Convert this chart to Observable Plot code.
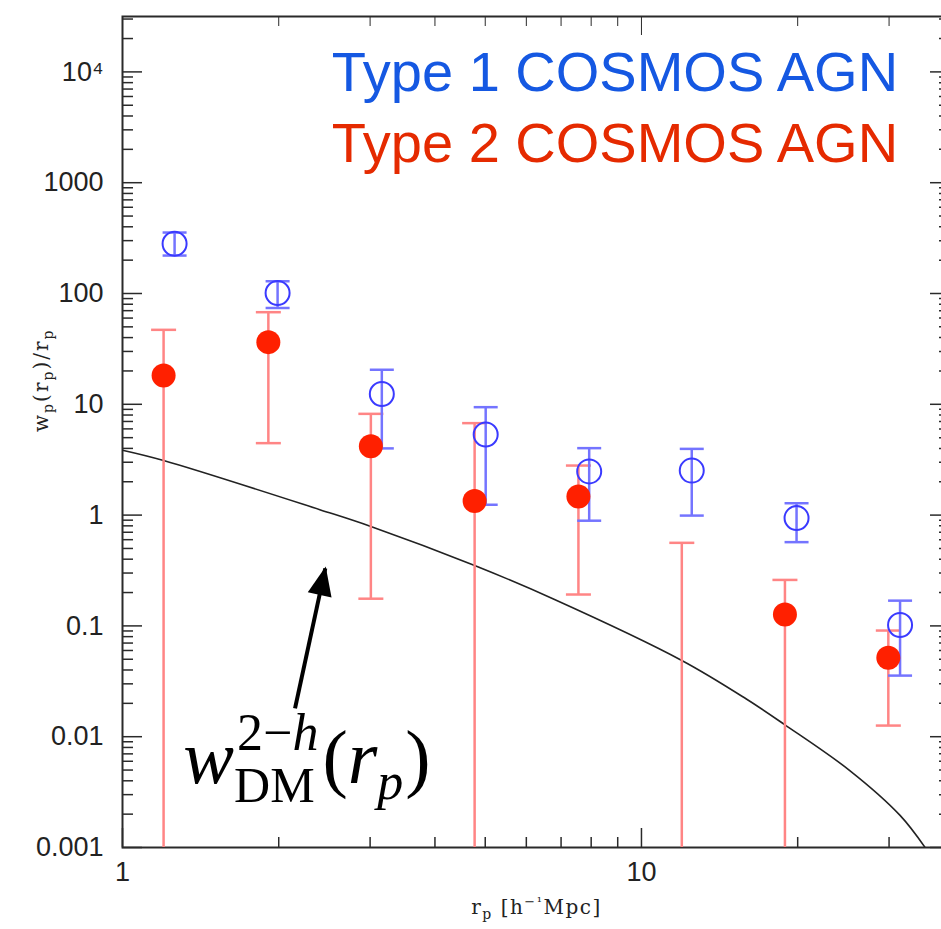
<!DOCTYPE html>
<html><head><meta charset="utf-8">
<script src="https://cdn.jsdelivr.net/npm/d3@7"></script>
<script src="https://cdn.jsdelivr.net/npm/@observablehq/plot@0.6"></script>
<style>
html,body{margin:0;padding:0;background:#fff;overflow:hidden;}
</style></head><body><div id="chart"></div><script>
// ---- Type 1 COSMOS AGN (open blue circles) ----
const type1R  = [1.26, 1.99, 3.16, 5.01, 7.93, 12.5, 19.9, 31.5];
const type1W  = [281, 101, 12.4, 5.34, 2.48, 2.52, 0.94, 0.102];
const type1Lo = [220, 74, 4.0, 1.24, 0.89, 0.99, 0.57, 0.0356];
const type1Hi = [355, 129, 20.5, 9.42, 4.02, 3.96, 1.28, 0.169];
// ---- Type 2 COSMOS AGN (filled red circles); null = off the plot ----
const type2R  = [1.20, 1.91, 3.01, 4.77, 7.56, 11.96, 18.9, 29.9];
const type2W  = [18.2, 36.4, 4.19, 1.34, 1.47, null, 0.127, 0.0515];
const type2Lo = [null, 4.46, 0.176, null, 0.192, null, null, 0.0126];
const type2Hi = [47, 67.8, 8.2, 6.76, 2.80, 0.562, 0.26, 0.0908];
// ---- dark-matter model curve ----
const dmR = [1.0, 1.2, 2.4, 3.01, 4.77, 6.75, 11.96, 15.9, 18.9, 25.2, 31.5, 35.2];
const dmW = [3.85, 3.11, 1.12, 0.79, 0.351, 0.176, 0.0488, 0.022, 0.0128, 0.00495, 0.00195, 0.001];
// ---- axes ----
const xDomain = [1, 39.4];
const yDomain = [1e-3, 10 ** 4.5];
const xMajor = [1, 10];
const xTickLabels = ["1", "10"];
const xMinor = [2, 3, 4, 5, 6, 7, 8, 9, 20, 30];
const yMajor = [1e-3, 1e-2, 0.1, 1, 10, 100, 1000, 1e4];
const yTickLabels = ["0.001", "0.01", "0.1", "1", "10", "100", "1000", "10\u2074"];
const yMinor = d3.range(-3, 5).flatMap(e => d3.range(2, 10).map(m => m * 10 ** e)).filter(v => v < yDomain[1]);
// ---- legend & annotation ----
const legendLabels = ["Type 1 COSMOS AGN", "Type 2 COSMOS AGN"];
const legendX = [2.53, 2.53];
const legendY = [6790, 1553];
const annotX = 1.31, annotY = 0.00379;
const arrowFrom = [2.15, 0.0180], arrowTo = [2.459, 0.330];
const xLabel = "rp [h-1Mpc]";
const yLabel = "wp(rp)/rp";
const annotText = "wDM(rp)";

const t1 = type1R.map((r, i) => ({r, w: type1W[i], lo: type1Lo[i], hi: type1Hi[i]}));
const t2 = type2R.map((r, i) => ({r, w: type2W[i], lo: type2Lo[i], hi: type2Hi[i]}));
const dm = dmR.map((r, i) => ({r, w: dmW[i]}));

const W = 941, H = 929, mL = 122, mR = -9, mT = 16, mB = 82;
const fW = W - mL - mR, fH = H - mT - mB;
const axisCol = "#2a2a2a";
const cap = {draw(ctx, size) { const r = Math.sqrt(size / Math.PI); ctx.moveTo(-r, 0); ctx.lineTo(r, 0); }};
const head = {draw(ctx, size) { const r = Math.sqrt(size / Math.PI); ctx.moveTo(0, -2); ctx.lineTo(-0.45 * r, r); ctx.lineTo(0.45 * r, r); ctx.closePath(); }};

const plot = Plot.plot({
  width: W, height: H, marginLeft: mL, marginRight: mR, marginTop: mT, marginBottom: mB,
  x: {type: "log", domain: xDomain, axis: null},
  y: {type: "log", domain: yDomain, axis: null},
  style: {fontFamily: "Liberation Sans, Arial, sans-serif", background: "#fff", overflow: "visible"},
  marks: [
    // ticks (inward, all four sides)
    Plot.ruleX(xMajor, {x: d => d, insetTop: fH - 19, stroke: axisCol, strokeWidth: 1.5}),
    Plot.ruleX(xMinor, {x: d => d, insetTop: fH - 10, stroke: axisCol, strokeWidth: 1.5}),
    Plot.ruleX(xMajor, {x: d => d, insetBottom: fH - 19, stroke: axisCol, strokeWidth: 1}),
    Plot.ruleX(xMinor, {x: d => d, insetBottom: fH - 10, stroke: axisCol, strokeWidth: 1}),
    Plot.ruleY(yMajor, {y: d => d, insetRight: fW - 20, stroke: axisCol, strokeWidth: 1.5}),
    Plot.ruleY(yMinor, {y: d => d, insetRight: fW - 11, stroke: axisCol, strokeWidth: 1.5}),
    Plot.ruleY(yMajor, {y: d => d, insetLeft: fW - 20, stroke: axisCol, strokeWidth: 1.5}),
    Plot.ruleY(yMinor, {y: d => d, insetLeft: fW - 11, stroke: axisCol, strokeWidth: 1.5}),
    Plot.frame({stroke: axisCol, strokeWidth: 2}),
    // tick labels
    Plot.text(xMajor, {x: d => d, text: (d, i) => xTickLabels[i], frameAnchor: "bottom", dy: 25, lineAnchor: "middle", fontSize: 27, fill: "#222"}),
    Plot.text(yMajor, {y: d => d, text: (d, i) => yTickLabels[i], frameAnchor: "left", dx: -19, textAnchor: "end", lineAnchor: "middle", fontSize: 27, fill: "#222"}),
    // axis labels
    Plot.text([xLabel], {frameAnchor: "bottom", dy: 66, lineAnchor: "bottom", fontSize: 20, fontFamily: "DejaVu Serif", fill: "#222"}),
    Plot.text([yLabel], {frameAnchor: "left", dx: -81, rotate: -90, lineAnchor: "middle", fontSize: 20, fontFamily: "DejaVu Serif", fill: "#222"}),
    // model curve
    Plot.line(dm, {x: "r", y: "w", curve: "catmull-rom", stroke: "#222", strokeWidth: 1.6, clip: true}),
    // error bars
    Plot.ruleX(t2, {x: "r", y1: d => d.lo ?? yDomain[0], y2: "hi", stroke: "#ff8585", strokeWidth: 2.5}),
    Plot.dot(t2, {x: "r", y: "hi", symbol: cap, r: 12.5, stroke: "#ff8585", strokeWidth: 2.5, fill: "none"}),
    Plot.dot(t2.filter(d => d.lo != null), {x: "r", y: "lo", symbol: cap, r: 12.5, stroke: "#ff8585", strokeWidth: 2.5, fill: "none"}),
    Plot.ruleX(t1, {x: "r", y1: "lo", y2: "hi", stroke: "#7474ff", strokeWidth: 2.5}),
    Plot.dot(t1, {x: "r", y: "hi", symbol: cap, r: 12, stroke: "#7474ff", strokeWidth: 2.5, fill: "none"}),
    Plot.dot(t1, {x: "r", y: "lo", symbol: cap, r: 12, stroke: "#7474ff", strokeWidth: 2.5, fill: "none"}),
    // markers
    Plot.dot(t2.filter(d => d.w != null), {x: "r", y: "w", r: 12, fill: "#ff2000", stroke: "none"}),
    Plot.dot(t1, {x: "r", y: "w", r: 12, fill: "none", stroke: "#3a3aff", strokeWidth: 2}),
    // legend
    Plot.text([legendLabels[0]], {x: [legendX[0]], y: [legendY[0]], textAnchor: "start", lineAnchor: "bottom", fontSize: 56, fill: "#1558e2"}),
    Plot.text([legendLabels[1]], {x: [legendX[1]], y: [legendY[1]], textAnchor: "start", lineAnchor: "bottom", fontSize: 56, fill: "#e52a00"}),
    // annotation arrow
    Plot.link([0], {x1: arrowFrom[0], y1: arrowFrom[1], x2: arrowTo[0], y2: arrowTo[1], stroke: "#000", strokeWidth: 4}),
    Plot.dot([0], {x: arrowTo[0], y: arrowTo[1], symbol: head, r: 27, rotate: 12, fill: "#000", stroke: "none"}),
    Plot.text([annotText], {x: [annotX], y: [annotY], textAnchor: "start", lineAnchor: "bottom", fontSize: 76, fontFamily: "Liberation Serif, Times New Roman, serif", fill: "#000"})
  ]
});
document.getElementById("chart").appendChild(plot);

const NS = "http://www.w3.org/2000/svg";
function ts(parent, txt, o = {}) {
  const e = document.createElementNS(NS, "tspan");
  if (o.size) e.setAttribute("font-size", o.size);
  if (o.italic) e.setAttribute("font-style", "italic");
  if (o.dy) e.setAttribute("dy", o.dy);
  if (o.dx) e.setAttribute("dx", o.dx);
  e.textContent = txt;
  parent.appendChild(e);
  return e;
}
function grab(str) {
  const t = Array.from(plot.querySelectorAll("text")).find(e => e.textContent === str);
  if (!t) return null;
  t.textContent = "";
  return t;
}
// y label  w_p(r_p)/r_p
{
  const t = grab(yLabel);
  if (t) {
    t.setAttribute("letter-spacing", "2");
    ts(t, "w"); ts(t, "p", {size: 14, dy: 5}); ts(t, "(r", {dy: -5}); ts(t, "p", {size: 14, dy: 5});
    ts(t, ")/r", {dy: -5}); ts(t, "p", {size: 14, dy: 5});
  }
}
// x label  r_p [h^-1 Mpc]
{
  const t = grab(xLabel);
  if (t) {
    t.setAttribute("letter-spacing", "1.5");
    ts(t, "r"); ts(t, "p", {size: 14, dy: 5}); ts(t, " [h", {dy: -5}); ts(t, "\u2212\u00b9", {size: 13, dy: -8});
    ts(t, "Mpc]", {dy: 8});
  }
}
// annotation  w^{2-h}_{DM}(r_p)
{
  const t = grab(annotText);
  if (t) {
    ts(t, "w", {italic: true});
    const s1 = ts(t, "2\u2212", {size: 52, dy: -33, dx: 3});
    const s2 = ts(t, "h", {size: 52, italic: true});
    const supW = s1.getComputedTextLength() + s2.getComputedTextLength() + 3;
    const sub = ts(t, "DM", {size: 50, dy: 52, dx: -supW});
    const subW = sub.getComputedTextLength();
    ts(t, "(", {dy: -19, dx: Math.max(0, supW - subW) + 4});
    ts(t, "r", {italic: true});
    ts(t, "p", {size: 52, italic: true, dy: 16});
    ts(t, ")", {dy: -16, dx: 2});
  }
}
</script></body></html>
